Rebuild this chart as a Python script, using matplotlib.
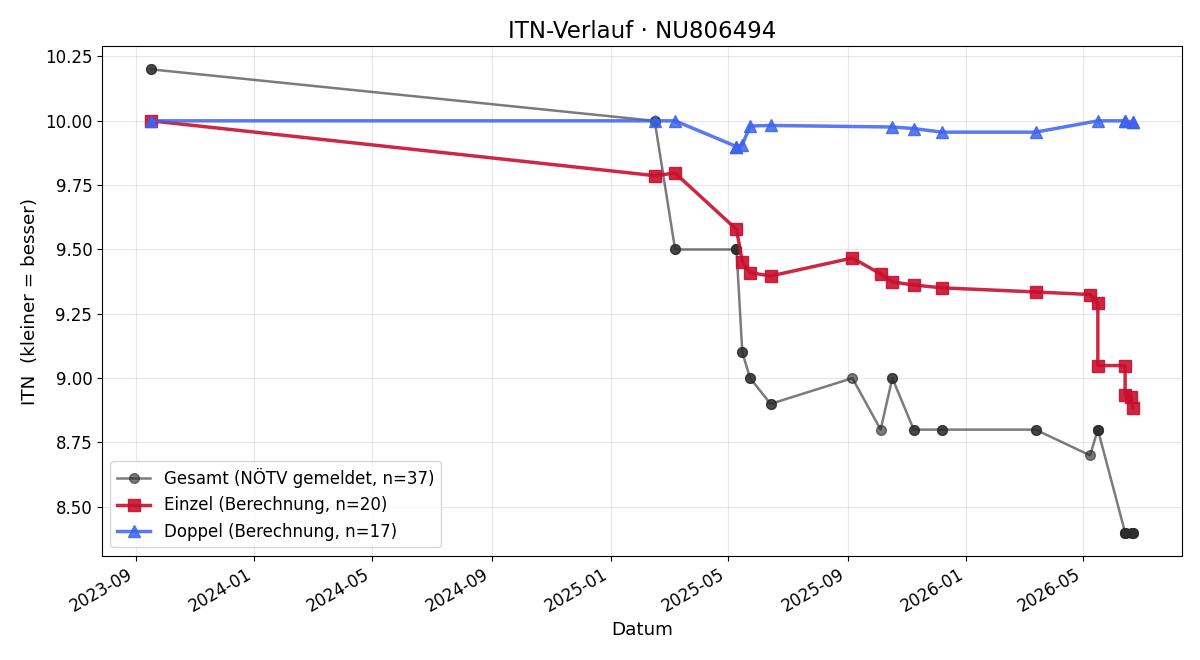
import matplotlib
matplotlib.use("Agg")
import matplotlib.pyplot as plt
import matplotlib.dates as mdates
import pandas as pd
from matplotlib.ticker import FormatStrFormatter

# Einzel (singles) ITN values
einzel_dates = ["2023-09-17", "2025-02-15", "2025-03-08", "2025-05-10", "2025-05-16",
                "2025-05-24", "2025-06-14", "2025-09-06", "2025-10-05", "2025-10-17",
                "2025-11-08", "2025-12-07", "2026-03-13", "2026-05-08", "2026-05-16",
                "2026-05-16", "2026-06-13", "2026-06-13", "2026-06-19", "2026-06-21"]
einzel_values = [10.0, 9.787, 9.797, 9.578, 9.453,
                 9.41, 9.397, 9.467, 9.405, 9.374,
                 9.362, 9.351, 9.335, 9.325, 9.293,
                 9.049, 9.049, 8.935, 8.925, 8.885]

# Doppel (doubles) ITN values
doppel_dates = ["2023-09-17", "2025-02-15", "2025-03-08", "2025-05-10", "2025-05-10",
                "2025-05-16", "2025-05-24", "2025-06-14", "2025-10-17", "2025-11-08",
                "2025-12-07", "2026-03-13", "2026-05-16", "2026-06-13", "2026-06-13",
                "2026-06-21", "2026-06-21"]
doppel_values = [10.0, 10.0, 10.0, 9.90, 9.90,
                 9.907, 9.98, 9.982, 9.976, 9.97,
                 9.956, 9.956, 10.0, 10.0, 10.0,
                 9.995, 9.995]

# Gesamt (reported) ITN values, one per match
gesamt_dates = ["2023-09-17", "2023-09-17", "2025-02-15", "2025-02-15", "2025-03-08",
                "2025-03-08", "2025-05-10", "2025-05-10", "2025-05-10", "2025-05-16",
                "2025-05-16", "2025-05-24", "2025-05-24", "2025-06-14", "2025-06-14",
                "2025-09-06", "2025-10-05", "2025-10-17", "2025-10-17", "2025-11-08",
                "2025-11-08", "2025-12-07", "2025-12-07", "2026-03-13", "2026-03-13",
                "2026-05-08", "2026-05-16", "2026-05-16", "2026-05-16", "2026-06-13",
                "2026-06-13", "2026-06-13", "2026-06-13", "2026-06-19", "2026-06-21",
                "2026-06-21", "2026-06-21"]
gesamt_values = [10.2, 10.2, 10.0, 10.0, 9.5,
                 9.5, 9.5, 9.5, 9.5, 9.1,
                 9.1, 9.0, 9.0, 8.9, 8.9,
                 9.0, 8.8, 9.0, 9.0, 8.8,
                 8.8, 8.8, 8.8, 8.8, 8.8,
                 8.7, 8.8, 8.8, 8.8, 8.4,
                 8.4, 8.4, 8.4, 8.4, 8.4,
                 8.4, 8.4]

title = "ITN-Verlauf · NU806494"

fig, ax = plt.subplots(figsize=(12, 6.6), dpi=100)

ax.plot(pd.to_datetime(gesamt_dates), gesamt_values, color="#2a2a2a", alpha=0.62,
        marker="o", markersize=7, linewidth=1.8,
        label=f"Gesamt (NÖTV gemeldet, n={len(gesamt_values)})")
ax.plot(pd.to_datetime(einzel_dates), einzel_values, color="#c8102e", alpha=0.9,
        marker="s", markersize=8, linewidth=2.5,
        label=f"Einzel (Berechnung, n={len(einzel_values)})")
ax.plot(pd.to_datetime(doppel_dates), doppel_values, color="#3d63ee", alpha=0.85,
        marker="^", markersize=8, linewidth=2.5,
        label=f"Doppel (Berechnung, n={len(doppel_values)})")

ax.xaxis.set_major_locator(mdates.MonthLocator(bymonth=[1, 5, 9]))
ax.xaxis.set_major_formatter(mdates.DateFormatter("%Y-%m"))
ax.yaxis.set_major_formatter(FormatStrFormatter("%.2f"))
ax.grid(True, alpha=0.3)
ax.set_title(title, fontsize=16.5)
ax.set_xlabel("Datum", fontsize=13.2)
ax.set_ylabel("ITN  (kleiner = besser)", fontsize=13.2)
ax.tick_params(labelsize=12)
ax.legend(loc="lower left", fontsize=12)
for lbl in ax.get_xticklabels():
    lbl.set_rotation(30)
    lbl.set_ha("right")

fig.subplots_adjust(left=0.085, right=0.985, top=0.93, bottom=0.158)
fig.savefig("out.png", dpi=100)
